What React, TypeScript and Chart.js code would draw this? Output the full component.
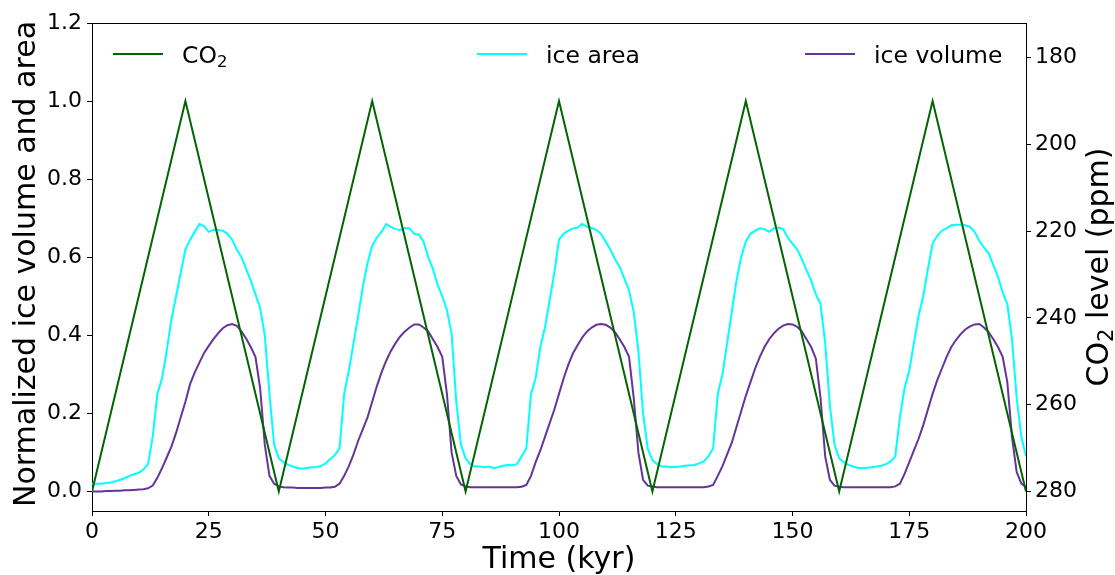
import React, { useEffect, useRef } from "react";
import { Chart, registerables } from "chart.js";

Chart.register(...registerables);

const FONT = "'DejaVu Sans', 'Liberation Sans', sans-serif";

const timeKyr = [
  0, 1, 2, 3, 4, 5, 6, 7, 8, 9, 10, 11, 12, 13, 14, 15, 16, 17, 18, 19,
  20, 21, 22, 23, 24, 25, 26, 27, 28, 29, 30, 31, 32, 33, 34, 35, 36, 37, 38, 39,
  40, 41, 42, 43, 44, 45, 46, 47, 48, 49, 50, 51, 52, 53, 54, 55, 56, 57, 58, 59,
  60, 61, 62, 63, 64, 65, 66, 67, 68, 69, 70, 71, 72, 73, 74, 75, 76, 77, 78, 79,
  80, 81, 82, 83, 84, 85, 86, 87, 88, 89, 90, 91, 92, 93, 94, 95, 96, 97, 98, 99,
  100, 101, 102, 103, 104, 105, 106, 107, 108, 109, 110, 111, 112, 113, 114, 115, 116, 117, 118, 119,
  120, 121, 122, 123, 124, 125, 126, 127, 128, 129, 130, 131, 132, 133, 134, 135, 136, 137, 138, 139,
  140, 141, 142, 143, 144, 145, 146, 147, 148, 149, 150, 151, 152, 153, 154, 155, 156, 157, 158, 159,
  160, 161, 162, 163, 164, 165, 166, 167, 168, 169, 170, 171, 172, 173, 174, 175, 176, 177, 178, 179,
  180, 181, 182, 183, 184, 185, 186, 187, 188, 189, 190, 191, 192, 193, 194, 195, 196, 197, 198, 199,
  200,
];

const iceArea = [
  0.020, 0.020, 0.020, 0.022, 0.023, 0.026, 0.030, 0.034, 0.040, 0.044,
  0.048, 0.056, 0.070, 0.140, 0.250, 0.290, 0.360, 0.440, 0.500, 0.560,
  0.620, 0.645, 0.665, 0.685, 0.680, 0.665, 0.670, 0.670, 0.668, 0.660,
  0.645, 0.620, 0.600, 0.570, 0.540, 0.505, 0.470, 0.400, 0.250, 0.120,
  0.085, 0.075, 0.068, 0.064, 0.060, 0.058, 0.060, 0.062, 0.063, 0.065,
  0.072, 0.083, 0.093, 0.110, 0.250, 0.310, 0.380, 0.450, 0.525, 0.585,
  0.630, 0.650, 0.665, 0.685, 0.678, 0.672, 0.670, 0.675, 0.674, 0.660,
  0.658, 0.640, 0.600, 0.570, 0.530, 0.500, 0.465, 0.405, 0.230, 0.120,
  0.085, 0.070, 0.064, 0.064, 0.062, 0.064, 0.060, 0.062, 0.066, 0.068,
  0.067, 0.070, 0.090, 0.110, 0.250, 0.290, 0.370, 0.420, 0.490, 0.560,
  0.645, 0.660, 0.668, 0.674, 0.676, 0.685, 0.678, 0.675, 0.670, 0.660,
  0.640, 0.620, 0.595, 0.575, 0.545, 0.515, 0.460, 0.360, 0.200, 0.110,
  0.080, 0.070, 0.064, 0.064, 0.062, 0.063, 0.064, 0.066, 0.067, 0.068,
  0.072, 0.077, 0.090, 0.110, 0.250, 0.300, 0.380, 0.460, 0.540, 0.600,
  0.640, 0.660, 0.668, 0.674, 0.672, 0.665, 0.674, 0.676, 0.672, 0.650,
  0.635, 0.620, 0.595, 0.567, 0.540, 0.505, 0.480, 0.380, 0.220, 0.120,
  0.085, 0.075, 0.068, 0.064, 0.060, 0.060, 0.061, 0.062, 0.064, 0.066,
  0.070, 0.077, 0.090, 0.190, 0.265, 0.310, 0.380, 0.450, 0.500, 0.570,
  0.635, 0.655, 0.668, 0.674, 0.682, 0.683, 0.683, 0.682, 0.678, 0.665,
  0.642, 0.625, 0.610, 0.580, 0.550, 0.510, 0.480, 0.390, 0.240, 0.140,
  0.090,
];

const iceVolume = [
  0.000, 0.000, 0.000, 0.001, 0.001, 0.002, 0.002, 0.003, 0.003, 0.004,
  0.005, 0.006, 0.008, 0.015, 0.035, 0.060, 0.087, 0.115, 0.150, 0.190,
  0.230, 0.275, 0.305, 0.330, 0.355, 0.373, 0.390, 0.405, 0.418, 0.426,
  0.429, 0.424, 0.410, 0.392, 0.370, 0.345, 0.265, 0.120, 0.040, 0.020,
  0.013, 0.011, 0.010, 0.010, 0.009, 0.009, 0.009, 0.009, 0.009, 0.009,
  0.010, 0.010, 0.012, 0.020, 0.040, 0.065, 0.095, 0.130, 0.160, 0.190,
  0.230, 0.270, 0.305, 0.335, 0.360, 0.380, 0.397, 0.410, 0.420, 0.428,
  0.428, 0.420, 0.410, 0.390, 0.370, 0.345, 0.250, 0.100, 0.040, 0.018,
  0.013, 0.011, 0.011, 0.011, 0.011, 0.011, 0.011, 0.011, 0.011, 0.011,
  0.011, 0.011, 0.012, 0.017, 0.040, 0.075, 0.105, 0.140, 0.175, 0.210,
  0.250, 0.290, 0.325, 0.354, 0.375, 0.395, 0.410, 0.420, 0.427, 0.429,
  0.427, 0.420, 0.408, 0.390, 0.370, 0.345, 0.240, 0.100, 0.030, 0.015,
  0.013, 0.011, 0.011, 0.011, 0.011, 0.011, 0.011, 0.011, 0.011, 0.011,
  0.011, 0.011, 0.013, 0.017, 0.040, 0.065, 0.095, 0.125, 0.165, 0.205,
  0.245, 0.280, 0.315, 0.345, 0.370, 0.390, 0.405, 0.417, 0.425, 0.429,
  0.428, 0.422, 0.410, 0.390, 0.370, 0.340, 0.240, 0.090, 0.030, 0.015,
  0.012, 0.011, 0.011, 0.011, 0.011, 0.011, 0.011, 0.011, 0.011, 0.011,
  0.011, 0.011, 0.013, 0.020, 0.045, 0.075, 0.105, 0.135, 0.170, 0.210,
  0.250, 0.285, 0.315, 0.345, 0.370, 0.388, 0.403, 0.415, 0.423, 0.428,
  0.429, 0.420, 0.408, 0.390, 0.370, 0.345, 0.280, 0.140, 0.050, 0.020,
  0.012,
];

const co2Time = [0, 20, 40, 60, 80, 100, 120, 140, 160, 180, 200];
const co2Ppm = [280, 190, 280, 190, 280, 190, 280, 190, 280, 190, 280];

const xTicks = [0, 25, 50, 75, 100, 125, 150, 175, 200];
const leftTicks = [0, 0.2, 0.4, 0.6, 0.8, 1.0, 1.2];
const rightTicks = [180, 200, 220, 240, 260, 280];

const seriesLabels = ["CO₂", "ice area", "ice volume"];
const seriesColors = ["#006400", "#00ffff", "#663399"];

function partsWidth(ctx: CanvasRenderingContext2D, parts: [string, boolean][], size: number) {
  let w = 0;
  for (const [t, sub] of parts) {
    ctx.font = `${sub ? size * 0.7 : size}px ${FONT}`;
    w += ctx.measureText(t).width;
  }
  return w;
}
function drawParts(ctx: CanvasRenderingContext2D, parts: [string, boolean][], x: number, y: number, size: number) {
  let cx = x;
  ctx.textAlign = "left";
  ctx.textBaseline = "alphabetic";
  for (const [t, sub] of parts) {
    ctx.font = `${sub ? size * 0.7 : size}px ${FONT}`;
    ctx.fillText(t, cx, sub ? y + size * 0.15 : y);
    cx += ctx.measureText(t).width;
  }
}
function labelParts(label: string): [string, boolean][] {
  const out: [string, boolean][] = [];
  let buf = "";
  for (const ch of label) {
    if (ch === "₂") {
      if (buf) out.push([buf, false]);
      buf = "";
      out.push(["2", true]);
    } else buf += ch;
  }
  if (buf) out.push([buf, false]);
  return out;
}

const TITLE_SIZE = 30;
const LEGEND_SIZE = 23.5;

const decorPlugin = {
  id: "decor",
  afterDraw(chart: any) {
    const ctx: CanvasRenderingContext2D = chart.ctx;
    const a = chart.chartArea;
    ctx.save();
    ctx.strokeStyle = "#000";
    ctx.lineWidth = 1;
    ctx.beginPath();
    ctx.moveTo(a.left, a.top + 0.5);
    ctx.lineTo(a.right, a.top + 0.5);
    ctx.stroke();

    ctx.fillStyle = "#000";
    const cy = (a.top + a.bottom) / 2;
    ctx.font = `${TITLE_SIZE}px ${FONT}`;
    ctx.textAlign = "center";
    ctx.textBaseline = "alphabetic";
    ctx.fillText("Time (kyr)", (a.left + a.right) / 2, 568);
    ctx.save();
    ctx.translate(35, cy - 3);
    ctx.rotate(-Math.PI / 2);
    ctx.fillText("Normalized ice volume and area", 0, 0);
    ctx.restore();
    ctx.save();
    ctx.translate(1108, cy);
    ctx.rotate(-Math.PI / 2);
    const rp = labelParts("CO₂ level (ppm)");
    const rw = partsWidth(ctx, rp, TITLE_SIZE);
    drawParts(ctx, rp, -rw / 2, 0, TITLE_SIZE);
    ctx.restore();

    const lineStarts = [113, 477, 805];
    chart.data.datasets.forEach((ds: any, i: number) => {
      const x0 = lineStarts[i];
      ctx.strokeStyle = ds.borderColor;
      ctx.lineWidth = 2;
      ctx.beginPath();
      ctx.moveTo(x0, 54);
      ctx.lineTo(x0 + 50, 54);
      ctx.stroke();
      ctx.fillStyle = "#000";
      drawParts(ctx, labelParts(ds.label), x0 + 69, 63, LEGEND_SIZE);
    });
    ctx.restore();
  },
};

export default function App() {
  const ref = useRef<HTMLCanvasElement | null>(null);
  useEffect(() => {
    if (!ref.current) return;
    Chart.defaults.font.family = FONT;
    const tickFont = { size: 22, family: FONT };
    const gridCfg = {
      drawOnChartArea: false,
      drawTicks: true,
      tickLength: 5,
      tickColor: "#000",
      tickWidth: 1,
    };
    const borderCfg = { display: true, color: "#000", width: 1 };
    const chart = new Chart(ref.current, {
      type: "line",
      data: {
        datasets: [
          {
            label: seriesLabels[0],
            data: co2Time.map((t, i) => ({ x: t, y: co2Ppm[i] })),
            borderColor: seriesColors[0],
            borderWidth: 2,
            pointRadius: 0,
            tension: 0,
            yAxisID: "y2",
          },
          {
            label: seriesLabels[1],
            data: timeKyr.map((t, i) => ({ x: t, y: iceArea[i] })),
            borderColor: seriesColors[1],
            borderWidth: 2,
            pointRadius: 0,
            tension: 0,
            yAxisID: "y",
          },
          {
            label: seriesLabels[2],
            data: timeKyr.map((t, i) => ({ x: t, y: iceVolume[i] })),
            borderColor: seriesColors[2],
            borderWidth: 2,
            pointRadius: 0,
            tension: 0,
            yAxisID: "y",
          },
        ],
      },
      options: {
        animation: false,
        responsive: false,
        maintainAspectRatio: false,
        layout: { padding: { top: 23, left: 0, right: 0, bottom: 0 } },
        plugins: { legend: { display: false }, tooltip: { enabled: false } },
        scales: {
          x: {
            type: "linear",
            position: "bottom",
            min: 0,
            max: 200,
            afterBuildTicks: (s: any) => {
              s.ticks = xTicks.map((v) => ({ value: v }));
            },
            ticks: { font: tickFont, color: "#000", padding: 3, maxRotation: 0, autoSkip: false },
            grid: gridCfg,
            border: borderCfg,
            afterFit: (s: any) => {
              s.height = 64;
            },
          },
          y: {
            type: "linear",
            position: "left",
            min: -0.05,
            max: 1.2,
            afterBuildTicks: (s: any) => {
              s.ticks = leftTicks.map((v) => ({ value: v }));
            },
            ticks: {
              font: tickFont,
              color: "#000",
              padding: 5,
              autoSkip: false,
              callback: (v: any) => Number(v).toFixed(1),
            },
            grid: gridCfg,
            border: borderCfg,
            afterFit: (s: any) => {
              s.width = 92;
            },
          },
          y2: {
            type: "linear",
            position: "right",
            reverse: true,
            min: 172,
            max: 284.5,
            afterBuildTicks: (s: any) => {
              s.ticks = rightTicks.map((v) => ({ value: v }));
            },
            ticks: {
              font: tickFont,
              color: "#000",
              padding: 4,
              autoSkip: false,
              callback: (v: any) => String(v),
            },
            grid: gridCfg,
            border: borderCfg,
            afterFit: (s: any) => {
              s.width = 89;
            },
          },
        },
      },
      plugins: [decorPlugin],
    });
    return () => chart.destroy();
  }, []);
  return (
    <div style={{ position: "absolute", left: 0, top: 0, width: 1115, height: 575, background: "#fff" }}>
      <canvas ref={ref} width={1115} height={575} style={{ display: "block" }} />
    </div>
  );
}
